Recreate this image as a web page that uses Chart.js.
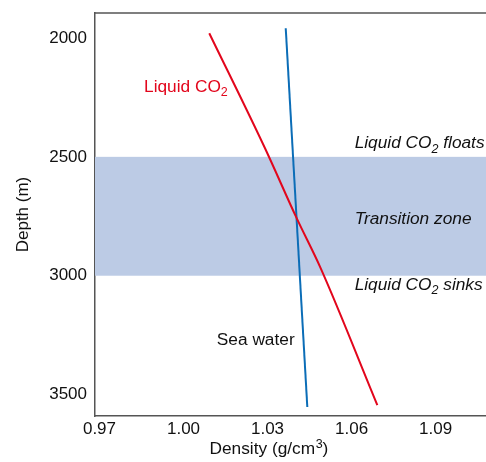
<!DOCTYPE html>
<html>
<head>
<meta charset="utf-8">
<script src="https://cdn.jsdelivr.net/npm/chart.js@4"></script>
<style>
  html, body { margin: 0; padding: 0; background: #fff; }
  #wrap { width: 486px; height: 462px; position: relative; }
</style>
</head>
<body>
<div id="wrap"><canvas id="chart"></canvas></div>
<script>
// Density profiles (depth in m, density in g/cm3)
const co2Depth = [1980, 2464, 2758, 2969, 3544];
const co2Density = [1.0092, 1.0291, 1.0404, 1.0490, 1.0692];
const seaDepth = [1959, 3552];
const seaDensity = [1.0365, 1.0442];

const xTicks = [0.97, 1.00, 1.03, 1.06, 1.09];
const yTicks = [2000, 2500, 3000, 3500];
const transitionBand = [2500, 3000];

const FONT = "'Liberation Sans', Arial, Helvetica, sans-serif";
const RED = '#e2061c';
const BLUE = '#0b6db7';
const BAND = '#bccbe5';
const AXIS = '#555555';

// annotation text, anchored at (density, depth) of its left baseline
const notes = [
  { parts: [['Liquid CO'], ['2', 'sub']], x: 0.9859, y: 2227, color: RED, italic: false },
  { parts: [['Liquid CO'], ['2', 'sub'], [' floats']], x: 1.0611, y: 2464, color: '#111', italic: true },
  { parts: [['Transition zone']], x: 1.0611, y: 2782, color: '#111', italic: true },
  { parts: [['Liquid CO'], ['2', 'sub'], [' sinks']], x: 1.0611, y: 3060, color: '#111', italic: true },
  { parts: [['Sea water']], x: 1.0119, y: 3291, color: '#111', italic: false }
];

const toPoints = (xs, ys) => xs.map((v, i) => ({ x: v, y: ys[i] }));

// draws a run of text pieces with sub/superscripts, returns end x
function drawRich(ctx, parts, px, py, style) {
  parts.forEach(([txt, kind]) => {
    if (kind === 'sub') {
      ctx.font = style + '12.5px ' + FONT;
      ctx.fillText(txt, px, py + 4.5);
    } else if (kind === 'sup') {
      ctx.font = style + '12.5px ' + FONT;
      ctx.fillText(txt, px + 0.5, py - 6.5);
      px += 0.5;
    } else {
      ctx.font = style + '17.3px ' + FONT;
      ctx.fillText(txt, px, py);
    }
    px += ctx.measureText(txt).width;
  });
  return px;
}

const figurePlugin = {
  id: 'figure',
  beforeDatasetsDraw(chart) {
    const { ctx, chartArea: a, scales: { y } } = chart;
    const top = y.getPixelForValue(transitionBand[0]);
    const bottom = y.getPixelForValue(transitionBand[1]);
    ctx.save();
    ctx.fillStyle = BAND;
    ctx.fillRect(a.left, top, a.right - a.left, bottom - top);
    ctx.restore();
  },
  afterDraw(chart) {
    const { ctx, chartArea: a, scales: { x, y } } = chart;
    ctx.save();
    // top frame line
    ctx.strokeStyle = AXIS;
    ctx.lineWidth = 1.5;
    ctx.beginPath();
    ctx.moveTo(a.left, a.top);
    ctx.lineTo(a.right, a.top);
    ctx.stroke();

    ctx.textBaseline = 'alphabetic';
    ctx.textAlign = 'left';
    notes.forEach(n => {
      ctx.fillStyle = n.color;
      drawRich(ctx, n.parts, x.getPixelForValue(n.x), y.getPixelForValue(n.y), n.italic ? 'italic ' : '');
    });

    // x axis title, centred under the labelled part of the axis
    const title = [['Density (g/cm'], ['3', 'sup'], [')']];
    const probe = document.createElement('canvas').getContext('2d');
    probe.font = '17.3px ' + FONT;
    let w = probe.measureText('Density (g/cm)').width;
    probe.font = '12.5px ' + FONT;
    w += probe.measureText('3').width + 0.5;
    ctx.fillStyle = '#111';
    drawRich(ctx, title, x.getPixelForValue(1.0305) - w / 2, 454, '');
    ctx.restore();
  }
};

new Chart(document.getElementById('chart'), {
  type: 'scatter',
  data: {
    datasets: [
      {
        label: 'Liquid CO2',
        data: toPoints(co2Density, co2Depth),
        showLine: true,
        cubicInterpolationMode: 'monotone',
        borderColor: RED,
        borderWidth: 2,
        pointRadius: 0
      },
      {
        label: 'Sea water',
        data: toPoints(seaDensity, seaDepth),
        showLine: true,
        borderColor: BLUE,
        borderWidth: 2,
        pointRadius: 0
      }
    ]
  },
  options: {
    responsive: true,
    maintainAspectRatio: false,
    animation: false,
    layout: { padding: { top: 13, right: 0, bottom: 0, left: 0 } },
    plugins: {
      legend: { display: false },
      tooltip: { enabled: false }
    },
    scales: {
      x: {
        type: 'linear',
        min: 0.9684,
        max: 1.108,
        afterBuildTicks: s => { s.ticks = xTicks.map(v => ({ value: v })); },
        afterFit: s => { s.height = 46; s.paddingLeft = 0; s.paddingRight = 0; },
        grid: { display: false, drawTicks: false },
        border: { display: true, color: AXIS, width: 1.5 },
        ticks: {
          autoSkip: false,
          maxRotation: 0,
          padding: 3,
          color: '#111',
          font: { family: FONT, size: 17 },
          callback: v => v.toFixed(2)
        }
      },
      y: {
        type: 'linear',
        reverse: true,
        min: 1895,
        max: 3590,
        afterBuildTicks: s => { s.ticks = yTicks.map(v => ({ value: v })); },
        afterFit: s => { s.width = 95; s.paddingTop = 0; s.paddingBottom = 0; },
        grid: { display: false, drawTicks: false },
        border: { display: true, color: AXIS, width: 1.5 },
        title: {
          display: true,
          text: 'Depth (m)',
          color: '#111',
          padding: { top: 13, bottom: 0 },
          font: { family: FONT, size: 17, lineHeight: 1.2 }
        },
        ticks: {
          autoSkip: false,
          padding: 8,
          color: '#111',
          font: { family: FONT, size: 17 },
          callback: v => String(v)
        }
      }
    }
  },
  plugins: [figurePlugin]
});
</script>
</body>
</html>
